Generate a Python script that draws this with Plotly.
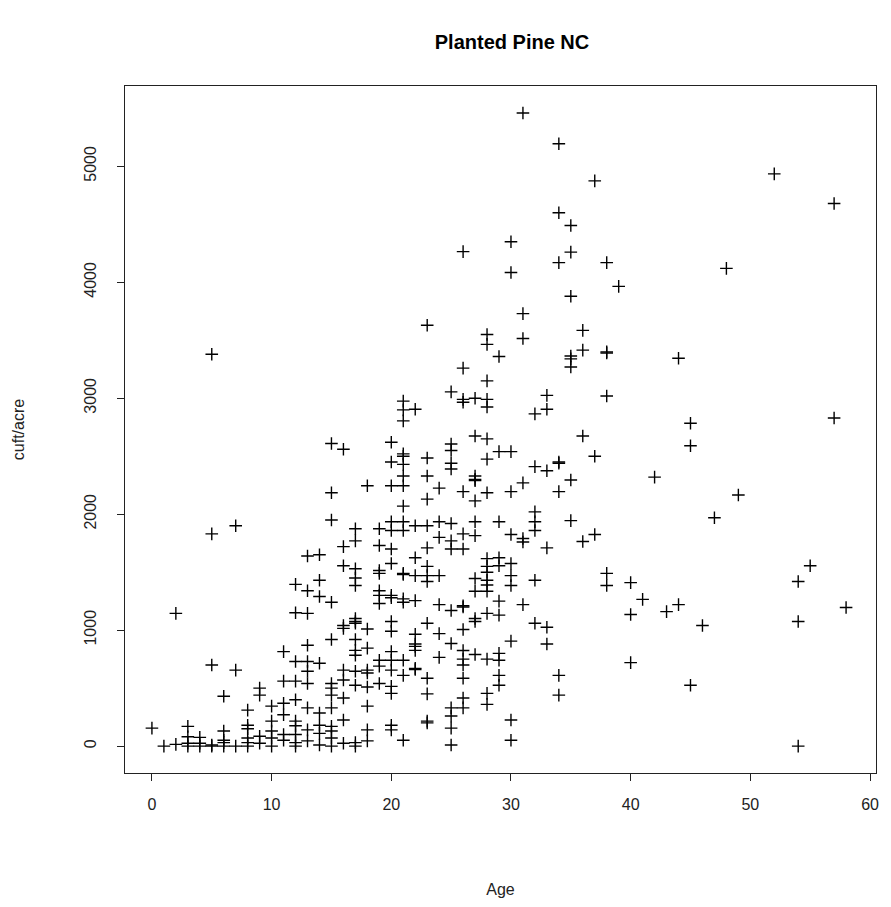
import plotly.graph_objects as go

# Stand age (years) for each group of observations
ages = [0, 1, 2, 3, 4, 5, 6, 7, 8, 9, 10, 11, 12, 13, 14, 15, 16, 17, 18, 19,
        20, 21, 22, 23, 24, 25, 26, 27, 28, 29, 30, 31, 32, 33, 34, 35, 36, 37,
        38, 39, 40, 41, 42, 43, 44, 45, 46, 47, 48, 49, 52, 54, 55, 57, 58]

# cuft/acre observed at each age (same order as ages)
cuft_by_age = [
    [155],
    [0],
    [1145, 15],
    [170, 80, 25, 0],
    [75, 25, 0],
    [3380, 1830, 700, 10, 0],
    [430, 130, 50, 30, 0],
    [1900, 655, 0],
    [310, 180, 150, 70, 30, 0],
    [500, 440, 85, 25],
    [345, 215, 130, 70, 0],
    [815, 560, 370, 270, 100, 50],
    [1395, 1150, 730, 560, 400, 215, 175, 100, 30, 0],
    [1640, 1340, 1145, 870, 730, 645, 540, 330, 140, 45],
    [1650, 1430, 1290, 715, 285, 180, 110, 10],
    [2610, 2185, 1950, 1240, 920, 540, 500, 440, 330, 170, 130, 70, 0],
    [2560, 1720, 1555, 1040, 1015, 655, 570, 415, 225, 25],
    [1875, 1770, 1530, 1450, 1385, 1100, 1075, 1060, 920, 826, 783, 645, 525, 30, 0],
    [2245, 1010, 845, 655, 630, 510, 345, 140, 45],
    [1875, 1730, 1515, 1490, 1340, 1300, 1230, 740, 690, 540],
    [2620, 2450, 2245, 1935, 1860, 1700, 1575, 1300, 1280, 1075, 990, 815, 740,
     655, 515, 455, 180, 140],
    [2975, 2900, 2805, 2520, 2500, 2430, 2330, 2245, 2070, 1935, 1860, 1490,
     1480, 1270, 1240, 740, 610, 50],
    [2905, 1900, 1625, 1470, 1255, 965, 880, 860, 826, 670, 660],
    [3630, 2485, 2330, 2130, 1900, 1710, 1550, 1470, 1420, 1060, 585, 450, 215, 200],
    [2225, 1935, 1800, 1470, 1220, 970, 765],
    [3055, 2605, 2550, 2440, 2390, 1920, 1770, 1700, 1170, 885, 330, 260, 155, 10],
    [4265, 3260, 2990, 2965, 2195, 1830, 1700, 1210, 1200, 1005, 825, 750, 700,
     585, 415, 330],
    [3000, 2675, 2330, 2300, 2290, 2115, 1935, 1815, 1445, 1335, 1100, 1075, 790],
    [3550, 3465, 3150, 2990, 2925, 2650, 2475, 2185, 1617, 1550, 1500, 1430,
     1390, 1335, 1145, 750, 455, 360],
    [3360, 2540, 1935, 1625, 1555, 1250, 1130, 800, 740, 610, 525],
    [4350, 4085, 2540, 2195, 1825, 1575, 1470, 1385, 905, 225, 50],
    [5460, 3730, 3515, 2270, 1790, 1760, 1220],
    [2865, 2410, 2020, 1935, 1860, 1430, 1060],
    [3025, 2905, 2375, 1710, 1025, 880],
    [5195, 4600, 4170, 2450, 2440, 2195, 610, 440],
    [4490, 4260, 3880, 3365, 3340, 3270, 2295, 1945],
    [3585, 3415, 2675, 1765],
    [4875, 2500, 1825],
    [4170, 3400, 3390, 3020, 1490, 1385],
    [3965],
    [1410, 1135, 720],
    [1265],
    [2320],
    [1160],
    [3345, 1220],
    [2785, 2590, 525],
    [1040],
    [1970],
    [4120],
    [2165],
    [4935],
    [1420, 1075, 0],
    [1555],
    [4680, 2830],
    [1195],
]

x_tick_vals = [0, 10, 20, 30, 40, 50, 60]
y_tick_vals = [0, 1000, 2000, 3000, 4000, 5000]

age = []
cuft = []
for a, vals in zip(ages, cuft_by_age):
    for v in vals:
        age.append(a)
        cuft.append(v)

fig = go.Figure(
    go.Scatter(
        x=age, y=cuft, mode="markers",
        marker=dict(symbol="cross-thin", size=9,
                    line=dict(color="black", width=1.4), color="black"),
        hoverinfo="x+y",
    )
)

font_family = "Liberation Sans, Arial, sans-serif"

fig.update_layout(
    width=891, height=907,
    margin=dict(l=125, r=13, t=86, b=132),
    paper_bgcolor="white", plot_bgcolor="white",
    showlegend=False,
    title=dict(text="<b>Planted Pine NC</b>", x=512 / 891, xanchor="center",
               y=1 - 42 / 907, yanchor="middle",
               font=dict(family=font_family, size=20, color="black")),
    font=dict(family=font_family, size=16, color="black"),
)

fig.update_xaxes(
    range=[-2.25, 60.5], tickvals=x_tick_vals, ticktext=[str(v) for v in x_tick_vals],
    showgrid=False, zeroline=False, showline=True, mirror=True,
    linecolor="#222", linewidth=1,
    ticks="outside", ticklen=7, tickcolor="#222", tickwidth=1,
    ticklabelstandoff=10,
    tickfont=dict(size=16, color="#222"),
    title=dict(text="Age", font=dict(size=16, color="#222"), standoff=71),
)
fig.update_yaxes(
    range=[-232, 5693], tickvals=y_tick_vals, ticktext=[str(v) for v in y_tick_vals],
    showgrid=False, zeroline=False, showline=True, mirror=True,
    linecolor="#222", linewidth=1,
    ticks="outside", ticklen=7, tickcolor="#222", tickwidth=1,
    ticklabelstandoff=15,
    tickangle=-90, tickfont=dict(size=16, color="#222"),
    title=dict(text="cuft/acre", font=dict(size=16, color="#222"), standoff=52),
)

fig.write_html("out.html", config={"displayModeBar": False},
               post_script="document.body.style.margin='0';")
